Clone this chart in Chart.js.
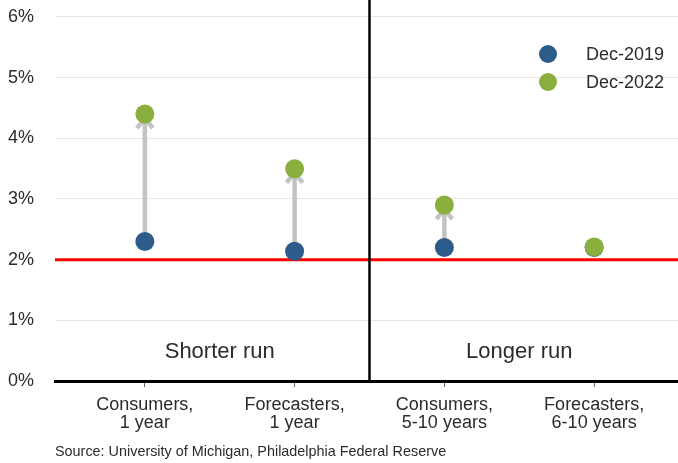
<!DOCTYPE html>
<html>
<head>
<meta charset="utf-8">
<script src="https://cdn.jsdelivr.net/npm/chart.js@4"></script>
<style>
  html, body { margin: 0; padding: 0; background: #fff; }
  canvas { display: block; }
</style>
</head>
<body>
<canvas id="chart" width="678" height="463"></canvas>
<script>
// Inflation expectations, before and after
const categories = [
    ['Consumers,', '1 year'],
    ['Forecasters,', '1 year'],
    ['Consumers,', '5-10 years'],
    ['Forecasters,', '6-10 years']
];
const dec2019 = [2.3, 2.14, 2.2, 2.2];
const dec2022 = [4.4, 3.5, 2.9, 2.21];
const yTicks = [0, 1, 2, 3, 4, 5, 6];
const target = 2;
const regions = ['Shorter run', 'Longer run'];
const seriesNames = ['Dec-2019', 'Dec-2022'];
const source = 'Source: University of Michigan, Philadelphia Federal Reserve';

const BLUE = '#2d5c8b';
const GREEN = '#8aaf3e';
const TEXT = '#2b2b2b';
const FONT = '"Liberation Sans", Arial, sans-serif';

const toPoints = vals => vals.map((v, i) => ({ x: i + 1, y: v }));

const extras = {
    id: 'extras',
    beforeDatasetsDraw(chart) {
        const { ctx, chartArea, scales: { x, y } } = chart;
        ctx.save();

        // 2% target line
        const ty = y.getPixelForValue(target);
        ctx.strokeStyle = '#ff0000';
        ctx.lineWidth = 3;
        ctx.beginPath();
        ctx.moveTo(chartArea.left, ty);
        ctx.lineTo(chartArea.right, ty);
        ctx.stroke();

        // divider between shorter and longer run
        const dx = x.getPixelForValue(2.5);
        ctx.strokeStyle = '#000';
        ctx.lineWidth = 2.5;
        ctx.beginPath();
        ctx.moveTo(dx, 0);
        ctx.lineTo(dx, chartArea.bottom);
        ctx.stroke();

        // arrows from Dec-2019 to Dec-2022
        ctx.strokeStyle = '#c3c3c3';
        ctx.lineWidth = 4.5;
        dec2019.forEach((v, i) => {
            const to = dec2022[i];
            if (Math.abs(to - v) < 0.05) return;
            const px = x.getPixelForValue(i + 1);
            const y0 = y.getPixelForValue(v);
            const y1 = y.getPixelForValue(to) + 4;
            ctx.beginPath();
            ctx.moveTo(px, y0);
            ctx.lineTo(px, y1);
            ctx.stroke();
            ctx.beginPath();
            ctx.moveTo(px - 8, y1 + 10);
            ctx.lineTo(px, y1);
            ctx.lineTo(px + 8, y1 + 10);
            ctx.stroke();
        });
        ctx.restore();
    },
    afterDraw(chart) {
        const { ctx, chartArea, scales: { x, y } } = chart;
        ctx.save();

        // region labels
        ctx.fillStyle = TEXT;
        ctx.font = '22px ' + FONT;
        ctx.textAlign = 'center';
        ctx.textBaseline = 'middle';
        regions.forEach((r, i) => {
            ctx.fillText(r, x.getPixelForValue(1.5 + i * 2), y.getPixelForValue(0.48));
        });

        // legend
        const colors = [BLUE, GREEN];
        ctx.font = '18px ' + FONT;
        ctx.textAlign = 'left';
        seriesNames.forEach((name, i) => {
            const ly = 54 + i * 28;
            ctx.fillStyle = colors[i];
            ctx.beginPath();
            ctx.arc(548, ly, 9, 0, Math.PI * 2);
            ctx.fill();
            ctx.fillStyle = TEXT;
            ctx.fillText(name, 586, ly + 1);
        });

        // source note
        ctx.font = '14.4px ' + FONT;
        ctx.fillStyle = TEXT;
        ctx.fillText(source, chartArea.left, 452);
        ctx.restore();
    }
};

new Chart(document.getElementById('chart').getContext('2d'), {
    type: 'scatter',
    data: {
        datasets: [
            {
                label: seriesNames[1],
                data: toPoints(dec2022),
                backgroundColor: GREEN,
                borderWidth: 0,
                pointRadius: 9.5,
                order: 0
            },
            {
                label: seriesNames[0],
                data: toPoints(dec2019),
                backgroundColor: BLUE,
                borderWidth: 0,
                pointRadius: 9.5,
                order: 1
            }
        ]
    },
    options: {
        responsive: false,
        animation: false,
        layout: { padding: 0, autoPadding: false },
        plugins: {
            legend: { display: false },
            tooltip: { enabled: false }
        },
        scales: {
            x: {
                type: 'linear',
                min: 0.4,
                max: 4.56,
                afterBuildTicks: axis => { axis.ticks = categories.map((c, i) => ({ value: i + 1 })); },
                afterFit: axis => { axis.height = 82; axis.paddingLeft = 0; axis.paddingRight = 0; },
                ticks: {
                    callback: v => categories[v - 1],
                    font: { family: FONT, size: 18, lineHeight: 1.0 },
                    color: TEXT,
                    padding: 9,
                    maxRotation: 0
                },
                grid: { drawOnChartArea: false, drawTicks: true, tickLength: 6, color: '#666', lineWidth: 1 },
                border: { color: '#000', width: 3 }
            },
            y: {
                min: 0,
                max: 6.28,
                afterBuildTicks: axis => { axis.ticks = yTicks.map(v => ({ value: v })); },
                afterFit: axis => { axis.width = 55; axis.paddingTop = 0; axis.paddingBottom = 0; },
                ticks: {
                    callback: v => v + '%',
                    font: { family: FONT, size: 18 },
                    color: TEXT,
                    padding: 21
                },
                grid: { color: '#e6e6e6', drawTicks: false, lineWidth: 1 },
                border: { display: false }
            }
        }
    },
    plugins: [extras]
});
</script>
</body>
</html>
